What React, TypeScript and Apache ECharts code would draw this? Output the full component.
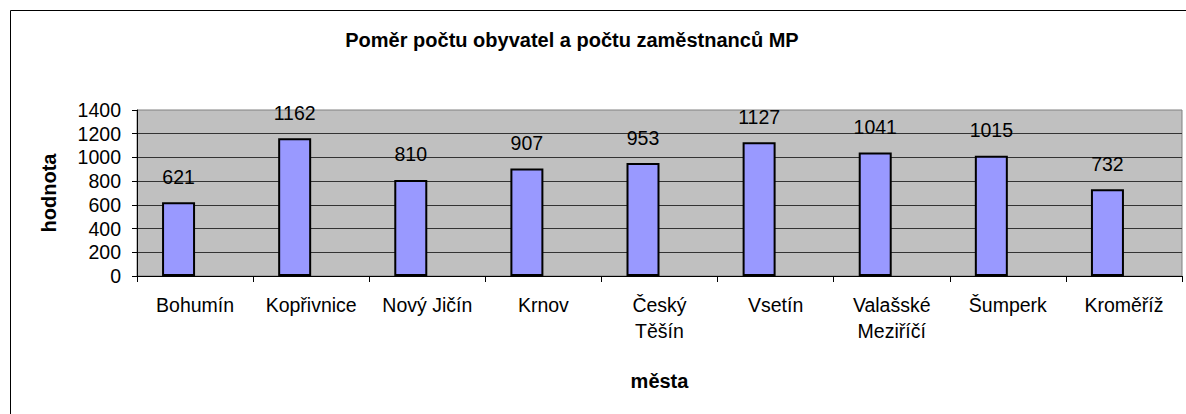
import React, { useEffect, useRef } from "react";
import * as echarts from "echarts";

const titleText = "Poměr počtu obyvatel a počtu zaměstnanců MP";
const categories = [
  "Bohumín",
  "Kopřivnice",
  "Nový Jičín",
  "Krnov",
  "Český\nTěšín",
  "Vsetín",
  "Valašské\nMeziříčí",
  "Šumperk",
  "Kroměříž",
];
const values = [621, 1162, 810, 907, 953, 1127, 1041, 1015, 732];
const emptySeries = categories.map(() => "-");
const yAxisName = "hodnota";
const xAxisName = "města";

const FONT = '"Liberation Sans", Arial, sans-serif';

export default function App() {
  const ref = useRef<HTMLDivElement>(null);
  useEffect(() => {
    if (!ref.current) return;
    const chart = echarts.init(ref.current, null, { renderer: "svg" });
    chart.setOption({
      animation: false,
      backgroundColor: "#ffffff",
      textStyle: { fontFamily: FONT },
      title: {
        text: titleText,
        left: 567,
        top: 25,
        textAlign: "center",
        textStyle: {
          fontFamily: FONT,
          fontSize: 20,
          fontWeight: "bold",
          color: "#000",
          lineHeight: 20,
        },
      },
      graphic: [
        {
          type: "rect",
          shape: { x: 10.5, y: 10.5, width: 1200, height: 430 },
          style: { fill: "none", stroke: "#000", lineWidth: 1 },
          silent: true,
          z: -1,
        },
      ],
      grid: {
        left: 137,
        top: 110,
        right: 4,
        bottom: 138,
        show: true,
        backgroundColor: "#C0C0C0",
        borderColor: "#808080",
        borderWidth: 1,
      },
      xAxis: {
        type: "category",
        data: categories,
        name: xAxisName,
        nameLocation: "middle",
        nameGap: 95,
        nameTextStyle: {
          fontFamily: FONT,
          fontSize: 20,
          fontWeight: "bold",
          color: "#000",
          lineHeight: 20,
        },
        axisLine: { show: true, lineStyle: { color: "#000", width: 1 } },
        axisTick: { show: true, length: 6, lineStyle: { color: "#000" } },
        axisLabel: {
          interval: 0,
          margin: 16,
          fontFamily: FONT,
          fontSize: 19.5,
          lineHeight: 26,
          color: "#000",
        },
        splitLine: { show: false },
      },
      yAxis: {
        type: "value",
        min: 0,
        max: 1400,
        interval: 200,
        name: yAxisName,
        nameLocation: "middle",
        nameGap: 78,
        nameTextStyle: {
          fontFamily: FONT,
          fontSize: 20,
          fontWeight: "bold",
          color: "#000",
          lineHeight: 20,
        },
        axisLine: { show: true, lineStyle: { color: "#000", width: 1 } },
        axisTick: { show: true, length: 5, lineStyle: { color: "#000" } },
        axisLabel: {
          margin: 16,
          fontFamily: FONT,
          fontSize: 19.5,
          color: "#000",
          formatter: (v: number) => String(v),
        },
        splitLine: {
          show: true,
          showMinLine: false,
          showMaxLine: false,
          lineStyle: { color: "#333", width: 1 },
        },
      },
      series: [
        {
          type: "bar",
          data: values,
          barWidth: 33,
          barGap: "0%",
          itemStyle: { color: "#9999FF", borderColor: "#000", borderWidth: 2 },
          label: {
            show: true,
            position: "top",
            distance: 16,
            fontFamily: FONT,
            fontSize: 19.5,
            lineHeight: 19,
            color: "#000",
          },
        },
        {
          type: "bar",
          data: emptySeries,
          barWidth: 33,
          barGap: "0%",
          itemStyle: { color: "#993366" },
        },
      ],
    });
    return () => chart.dispose();
  }, []);
  return (
    <div
      ref={ref}
      style={{ position: "fixed", left: 0, top: 0, width: 1186, height: 414 }}
    />
  );
}
